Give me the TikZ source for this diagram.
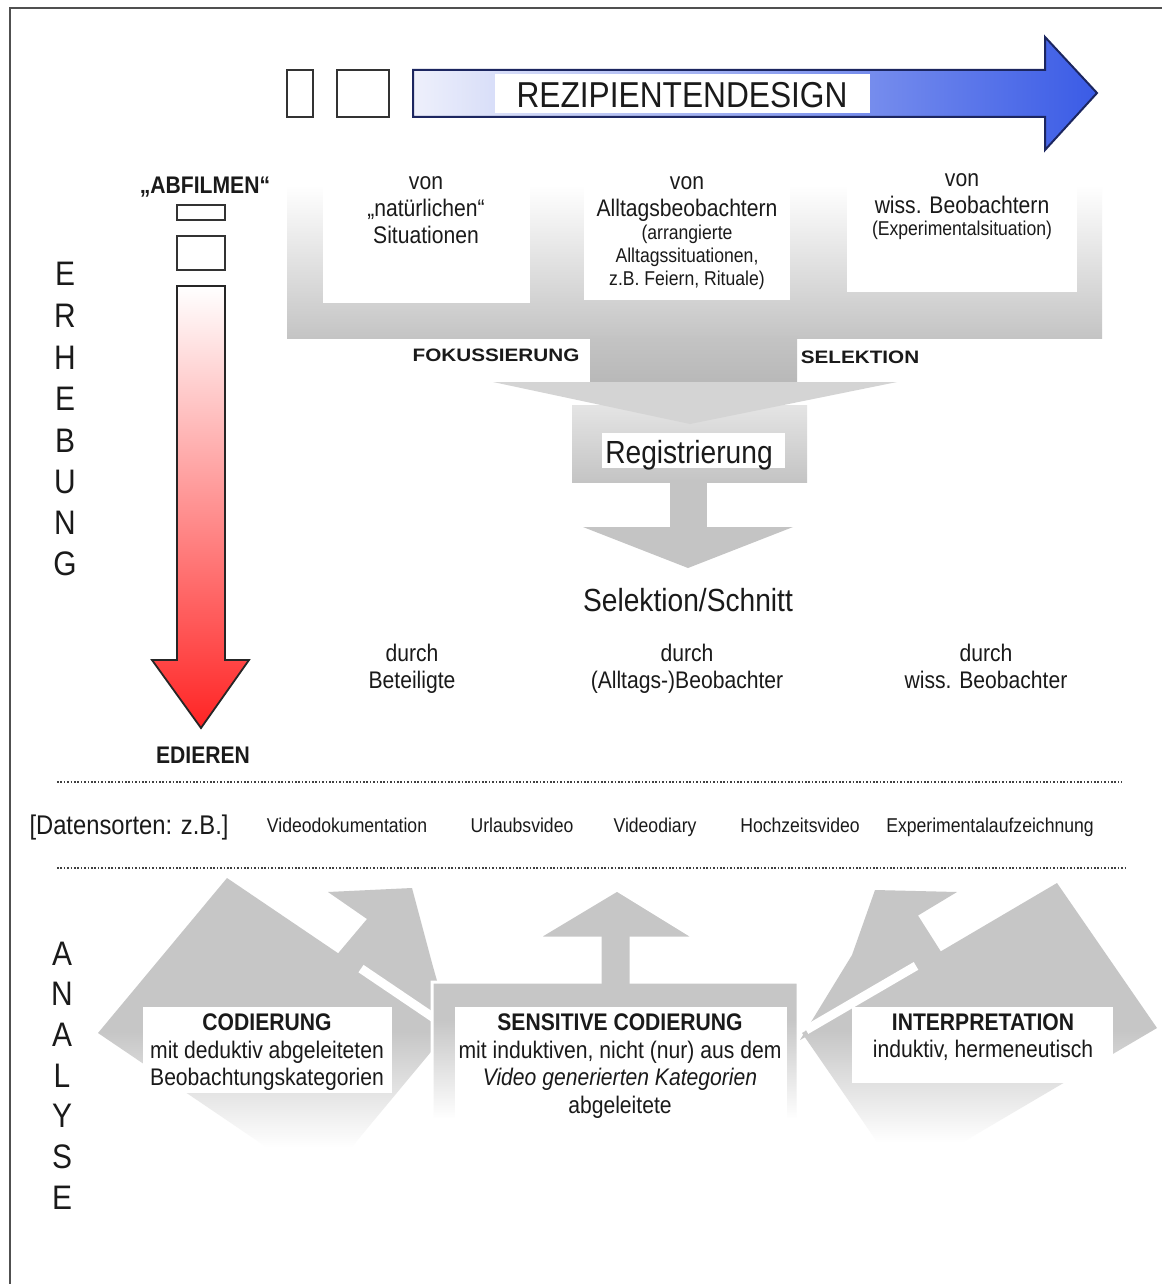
\documentclass[tikz,border=0pt]{standalone}
\usepackage{fontspec}
\setmainfont{Liberation Sans}[FakeStretch=0.88]
\newfontfamily\widefont{Liberation Sans}[FakeStretch=1.15]
\definecolor{shgray}{HTML}{C4C4C4}
\definecolor{hdark}{HTML}{B8B8B8}
\definecolor{hlight}{HTML}{D4D4D4}
\definecolor{hgray}{HTML}{C6C6C6}
\definecolor{framecol}{HTML}{505050}
\definecolor{bluedark}{HTML}{3A5BE6}
\definecolor{bluelight}{HTML}{EEF0FB}
\definecolor{blueline}{HTML}{1C2660}
\definecolor{redarrow}{HTML}{FF2424}
\definecolor{txtcol}{HTML}{1A1A1A}
\pgfdeclareverticalshading{fadegray}{100bp}{color(0bp)=(white); color(31bp)=(white); color(50bp)=(hgray); color(100bp)=(hgray)}
\begin{document}
\begin{tikzpicture}[x=0.5pt,y=-0.5pt,
  lbl/.style={inner sep=0pt, anchor=base, text=txtcol},
  s12/.style={lbl, font=\fontsize{12}{14}\selectfont},
  s10/.style={lbl, font=\fontsize{10}{12}\selectfont},
  s16/.style={lbl, font=\fontsize{16}{18}\selectfont},
  b12/.style={lbl, font=\fontsize{12}{14}\selectfont\bfseries},
  wideb/.style={lbl, font=\widefont\fontsize{9}{11}\selectfont\bfseries},
  bigletter/.style={lbl, font=\fontsize{17}{19}\selectfont},
  smallbox/.style={draw=black!80, fill=white, line width=0.9pt},
  wbox/.style={fill=white},
  stripe/.style={draw=white, line width=4.5pt},
  dotline/.style={draw=black!75, line width=1.3pt, dash pattern=on 0.8pt off 0.9pt}
]
\useasboundingbox (0,0) rectangle (1162,1284);
\fill[white] (0,0) rectangle (1162,1284);
% frame
\draw[framecol, line width=1pt] (10,1284) -- (10,8) -- (1162,8);

% ===== top blue arrow =====
\draw[smallbox] (287,70) rectangle (313,117);
\draw[smallbox] (337,70) rectangle (389,117);
\shade[left color=bluelight, right color=bluedark, draw=blueline, line width=1pt]
  (413,70) -- (1045,70) -- (1045,37) -- (1097,93) -- (1045,150) -- (1045,117) -- (413,117) -- cycle;
\fill[white] (495,74) rectangle (870,113);
\node[lbl, font=\fontsize{18}{20}\selectfont] (rez) at (682,108) {REZIPIENTENDESIGN};

% ===== red arrow =====
\node[b12] (abf) at (205,193.6) {„ABFILMEN“};
\draw[smallbox] (177,205) rectangle (225,220);
\draw[smallbox] (177,236) rectangle (225,270);
\shade[top color=white, bottom color=redarrow, draw=black!85, line width=0.9pt]
  (177,286) -- (225,286) -- (225,660) -- (249,660) -- (201,728) -- (152,660) -- (177,660) -- cycle;
\node[b12] (edi) at (203,763.6) {EDIEREN};

% ===== ERHEBUNG / ANALYSE =====
\foreach \l/\yy [count=\i] in {E/273,R/315,H/357,E/398,B/440,U/481,N/522,G/563}
  \node[bigletter] (erh\i) at (65,\yy+12.2) {\l};
\foreach \l/\yy [count=\i] in {A/953,N/993,A/1034,L/1075,Y/1115,S/1156,E/1197}
  \node[bigletter] (ana\i) at (62,\yy+12.2) {\l};

% ===== funnel =====
\shade[top color=white, bottom color=shgray] (287,185) rectangle (1102,338);
\fill[wbox] (323,185) rectangle (530,303);
\fill[wbox] (584,185) rectangle (790,300);
\fill[wbox] (847,185) rectangle (1077,292);
\shade[top color=shgray, bottom color=hdark] (590,336) rectangle (797,384);
\shade[top color=shgray!45, bottom color=shgray] (572,405) rectangle (807,482);
\shade[left color=hlight, middle color=hdark, right color=hlight] (493,382) -- (897,382) -- (690,424) -- cycle;
\fill[wbox] (602,433) rectangle (785,468);
\fill[shgray] (670,480) rectangle (707,528);
\fill[shgray] (583,527) -- (793,527) -- (688,568) -- cycle;

\node[s12] (v1a) at (426,189) {von};
\node[s12] (v1b) at (426,216) {„natürlichen“};
\node[s12] (v1c) at (426,243) {Situationen};
\node[s12] (v2a) at (687,189) {von};
\node[s12] (v2b) at (687,216) {Alltagsbeobachtern};
\node[s10] (v2c) at (687,239) {(arrangierte};
\node[s10] (v2d) at (687,262) {Alltagssituationen,};
\node[s10] (v2e) at (687,285) {z.B. Feiern, Rituale)};
\node[s12] (v3a) at (962,186) {von};
\node[s12] (v3b) at (962,213) {wiss. Beobachtern};
\node[s10] (v3c) at (962,235) {(Experimentalsituation)};

\node[wideb] (fok) at (496,361.5) {FOKUSSIERUNG};
\node[wideb] (sel) at (860,363.5) {SELEKTION};
\node[s16] (reg) at (689,463.5) {Registrierung};
\node[s16] (sch) at (688,611.5) {Selektion/Schnitt};

\node[s12] (d1a) at (412,661.6) {durch};
\node[s12] (d1b) at (412,688.6) {Beteiligte};
\node[s12] (d2a) at (687,661.6) {durch};
\node[s12] (d2b) at (687,688.6) {(Alltags-)Beobachter};
\node[s12] (d3a) at (986,661.6) {durch};
\node[s12] (d3b) at (986,688.6) {wiss. Beobachter};

% ===== data row =====
\draw[dotline] (57,782) -- (1122,782);
\draw[dotline] (57,868) -- (1127,868);
\node[lbl, font=\fontsize{13.5}{15}\selectfont] (ds0) at (129,834) {[Datensorten: z.B.]};
\node[s10] (ds1) at (347,832) {Videodokumentation};
\node[s10] (ds2) at (522,832) {Urlaubsvideo};
\node[s10] (ds3) at (655,832) {Videodiary};
\node[s10] (ds4) at (800,832) {Hochzeitsvideo};
\node[s10] (ds5) at (990,832) {Experimentalaufzeichnung};

% ===== analysis shapes =====
% left: arrow + block
\fill[hgray] (328,892) -- (412,888) -- (432,963) -- (452,1034) -- (335,957) -- (367,919) -- cycle;
\shade[shading=fadegray] (227,878) -- (450,1029) -- (321,1184) -- (98,1033) -- cycle;
\draw[stripe] (361,968.6) -- (445,1025.4);
% right: arrow + block
\fill[hgray] (875,890) -- (957,892) -- (918,915.5) -- (945,958) -- (800,1040) -- (852,955) -- cycle;
\shade[shading=fadegray] (1057,883) -- (1157,1028) -- (902,1178) -- (802,1033) -- cycle;
\draw[stripe] (806,1030) -- (916,965.9);
% middle arrow
\shade[shading=fadegray, draw=white, line width=1.5pt]
  (432,1150) -- (432,982) -- (600,982) -- (600,938) -- (537,938) -- (617,890)
  -- (695,938) -- (631,938) -- (631,982) -- (798,982) -- (798,1150) -- cycle;

\fill[wbox] (143,1007) rectangle (392,1093);
\fill[wbox] (455,1007) rectangle (787,1120);
\fill[wbox] (852,1007) rectangle (1113,1083);

\node[b12] (c1a) at (267,1030.6) {CODIERUNG};
\node[s12] (c1b) at (267,1058.6) {mit deduktiv abgeleiteten};
\node[s12] (c1c) at (267,1085.6) {Beobachtungskategorien};
\node[b12] (c2a) at (620,1030.6) {SENSITIVE CODIERUNG};
\node[s12] (c2b) at (620,1058.6) {mit induktiven, nicht (nur) aus dem};
\node[s12, font=\fontsize{12}{14}\selectfont\itshape] (c2c) at (620,1085.6) {Video generierten Kategorien};
\node[s12] (c2d) at (620,1113.6) {abgeleitete};
\node[b12] (c3a) at (983,1030.6) {INTERPRETATION};
\node[s12] (c3b) at (983,1057.6) {induktiv, hermeneutisch};
\end{tikzpicture}
\end{document}
